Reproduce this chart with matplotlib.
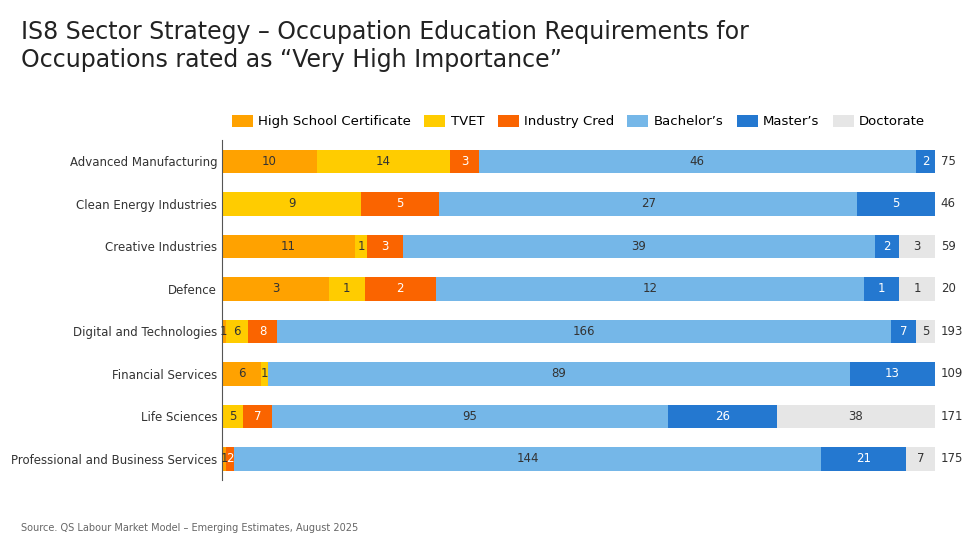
import numpy as np
import matplotlib
matplotlib.use('Agg')
import matplotlib.pyplot as plt

sectors = ["Advanced Manufacturing", "Clean Energy Industries", "Creative Industries", "Defence",
           "Digital and Technologies", "Financial Services", "Life Sciences",
           "Professional and Business Services"]
levels = ["High School Certificate", "TVET", "Industry Cred", "Bachelor's", "Master's", "Doctorate"]
high_school = [10, 0, 11, 3, 1, 6, 0, 1]
tvet = [14, 9, 1, 1, 6, 1, 5, 0]
industry_cred = [3, 5, 3, 2, 8, 0, 7, 2]
bachelors = [46, 27, 39, 12, 166, 89, 95, 144]
masters = [2, 5, 2, 1, 7, 13, 26, 21]
doctorate = [0, 0, 3, 1, 5, 0, 38, 7]

colors = ["#FFA200", "#FFCC00", "#FA6400", "#75B7E8", "#2478D0", "#E6E6E6"]
text_cols = ["#333333", "#333333", "white", "#333333", "white", "#333333"]

data = np.array([high_school, tvet, industry_cred, bachelors, masters, doctorate], dtype=float)
totals = data.sum(axis=0)
pct = data / totals * 100

plt.rcParams['font.family'] = ['DejaVu Sans']
fig = plt.figure(figsize=(9.78, 5.5), dpi=100)
ax = fig.add_axes([0.227, 0.127, 0.729, 0.618])

y = np.arange(len(sectors))
left = np.zeros(len(sectors))
for i, lab in enumerate(levels):
    ax.barh(y, pct[i], left=left, height=0.56, color=colors[i], label=lab.replace("'", "\u2019"))
    for j in range(len(sectors)):
        if data[i, j] > 0:
            ax.text(left[j] + pct[i, j] / 2, y[j], str(int(data[i, j])), ha='center', va='center',
                    fontsize=8.5, color=text_cols[i])
    left += pct[i]

for j in range(len(sectors)):
    ax.text(100.8, y[j], str(int(totals[j])), ha='left', va='center', fontsize=8.5, color='#333333')

ax.set_xlim(0, 100)
ax.set_ylim(len(sectors) - 0.5, -0.5)
ax.set_yticks(y)
ax.set_yticklabels(sectors, fontsize=8.5, color='#333333')
ax.set_xticks([])
ax.tick_params(axis='y', length=0)
for s in ['top', 'right', 'bottom']:
    ax.spines[s].set_visible(False)
ax.spines['left'].set_color('#555555')

ax.legend(loc='lower center', bbox_to_anchor=(0.5, 1.0), ncol=6, frameon=False, fontsize=9.5,
          handlelength=1.6, handleheight=1.1, columnspacing=1.0, handletextpad=0.4)

fig.text(0.021, 0.87, "IS8 Sector Strategy \u2013 Occupation Education Requirements for\nOccupations rated as \u201cVery High Importance\u201d",
         fontsize=17, color='#222222', va='bottom', linespacing=1.2)
fig.text(0.021, 0.035, "Source. QS Labour Market Model \u2013 Emerging Estimates, August 2025",
         fontsize=7, color='#666666')

fig.savefig("out.png", dpi=100)
